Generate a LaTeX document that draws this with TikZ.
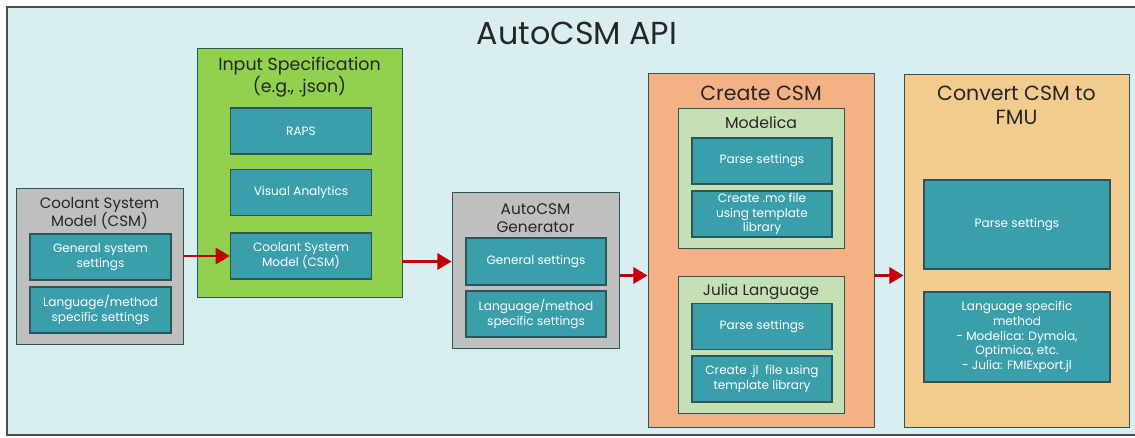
\documentclass[tikz,border=0pt]{standalone}
\usepackage{fontspec}
\setmainfont{Poppins}
\usetikzlibrary{arrows.meta}
\definecolor{bgcyan}{HTML}{D8EEF1}
\definecolor{tealbox}{HTML}{3A9FAB}
\definecolor{edgedark}{HTML}{2D5558}
\definecolor{grayish}{HTML}{BFBFBF}
\definecolor{greenbox}{HTML}{92D050}
\definecolor{orangebox}{HTML}{F4B183}
\definecolor{tanbox}{HTML}{F2CC8E}
\definecolor{palegreen}{HTML}{C5E0B4}
\definecolor{arrowred}{HTML}{C00000}

\begin{document}
\begin{tikzpicture}[x=0.025cm, y=-0.025cm,
    sz/.style 2 args={minimum width=#1*0.025cm, minimum height=#2*0.025cm},
    frame/.style={draw=edgedark, line width=0.7pt, inner sep=0pt},
    teal/.style={frame, fill=tealbox, line width=1pt, text=white, align=center,
      font=\fontsize{8.6}{10.5}\selectfont},
    title/.style={align=center, text=black!85},
    flow/.style={arrowred, line width=2pt, -{Triangle[length=10pt, width=11.5pt]}}]

  \useasboundingbox (0, 0) rectangle (1135, 437);
  \draw[fill=bgcyan, draw=black!70, line width=0.8pt] (7, 7) rectangle (1145, 435);

  \node[title, font=\fontsize{22.6}{26}\selectfont] (api) at (577, 33) {AutoCSM API};

  % coolant system model
  \node[frame, fill=grayish, sz={167}{156}] (csm) at (99.5, 266) {};
  \node[title, font=\fontsize{10.7}{13}\selectfont] (csmTitle) at (99.5, 213)
    {Coolant System\\Model (CSM)};
  \node[teal, sz={141}{46}] (csmGen) at (100.5, 257) {General system\\settings};
  \node[teal, sz={141}{46}] (csmLang) at (100.5, 310) {Language/method\\specific settings};

  % input specification
  \node[frame, fill=greenbox, sz={205}{249}] (inSpec) at (299.5, 172.5) {};
  \node[title, font=\fontsize{12.4}{15.5}\selectfont] (inSpecTitle) at (299.5, 77)
    {Input Specification\\(e.g., .json)};
  \node[teal, sz={141}{46}] (raps) at (301, 131) {RAPS};
  \node[teal, sz={141}{46}] (visual) at (301, 192.5) {Visual Analytics};
  \node[teal, sz={141}{46}] (inCsm) at (301, 256) {Coolant System\\Model (CSM)};

  % generator
  \node[frame, fill=grayish, sz={167}{156}] (gen) at (535.5, 270) {};
  \node[title, font=\fontsize{10.9}{13}\selectfont] (genTitle) at (535.5, 218)
    {AutoCSM\\Generator};
  \node[teal, sz={140}{47}] (genGen) at (536, 261.5) {General settings};
  \node[teal, sz={140}{46}] (genLang) at (536, 314) {Language/method\\specific settings};

  % create csm
  \node[frame, fill=orangebox, sz={226}{354}] (create) at (761, 250) {};
  \node[title, font=\fontsize{14.6}{16.5}\selectfont] (createTitle) at (761, 93) {Create CSM};
  \node[frame, fill=palegreen, sz={166}{140}] (modelica) at (761, 178) {};
  \node[title, font=\fontsize{11.2}{12}\selectfont] (modelicaTitle) at (761, 123) {Modelica};
  \node[teal, sz={140}{46}] (moParse) at (762, 161) {Parse settings};
  \node[teal, sz={140}{46}] (moCreate) at (762, 214) {Create .mo file\\using template\\library};
  \node[frame, fill=palegreen, sz={166}{137}] (julia) at (761, 344.5) {};
  \node[title, font=\fontsize{10.8}{12}\selectfont] (juliaTitle) at (761, 292) {Julia Language};
  \node[teal, sz={140}{46}] (jlParse) at (762, 326.5) {Parse settings};
  \node[teal, sz={140}{46}] (jlCreate) at (762, 379) {Create .jl\ \ file using\\template library};

  % convert to fmu
  \node[frame, fill=tanbox, sz={225}{353}] (convert) at (1016.5, 250.5) {};
  \node[title, font=\fontsize{14.6}{17}\selectfont] (convertTitle) at (1016.5, 105)
    {Convert CSM to\\FMU};
  \node[teal, sz={186}{89}] (fmuParse) at (1017, 224.5) {Parse settings};
  \node[teal, sz={186}{90}] (fmuLang) at (1017, 337)
    {Language specific\\method\\- Modelica: Dymola,\\Optimica, etc.\\- Julia: FMIExport.jl};

  \draw[flow] (csm.east |- inCsm) -- (inCsm.west);
  \draw[flow] (inSpec.east |- genGen) -- (gen.west |- genGen);
  \draw[flow] (gen.east |- julia.north) -- (create.west |- julia.north);
  \draw[flow] (create.east |- julia.north) -- (convert.west |- julia.north);

\end{tikzpicture}
\end{document}
